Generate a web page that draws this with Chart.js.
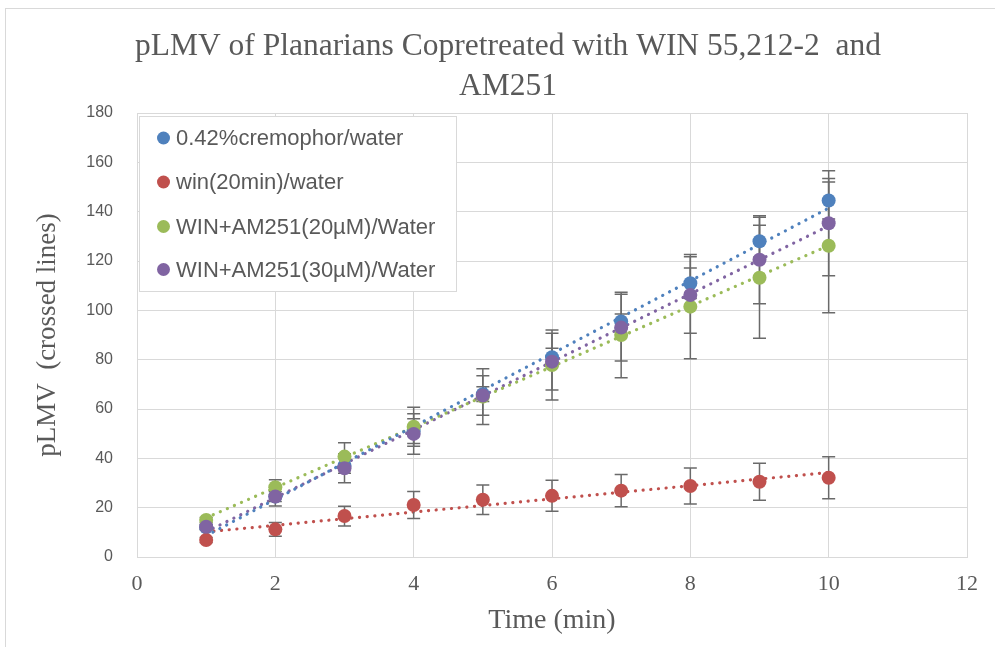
<!DOCTYPE html>
<html lang="en">
<head>
  <meta charset="UTF-8">
  <title>pLMV of Planarians</title>
  <script src="https://cdn.jsdelivr.net/npm/chart.js"></script>
  <style>
    body { margin: 0; background: #fff; }
    #frame { position: absolute; left: 5px; top: 8px; width: 1100px; height: 700px;
             border-left: 1px solid #d9d9d9; border-top: 1px solid #d9d9d9; }
    #wrap { position: absolute; left: 0; top: 0; width: 995px; height: 647px; }
  </style>
</head>
<body>
  <div id="frame"></div>
  <div id="wrap"><canvas id="plmvChart" width="995" height="647"></canvas></div>

  <script>
// time points (min)
const times = [1, 2, 3, 4, 5, 6, 7, 8, 9, 10];

// chart title lines
const titleLines = ['pLMV of Planarians Copretreated with WIN 55,212-2  and', 'AM251'];

// series labels
const labels = [
  '0.42%cremophor/water',
  'win(20min)/water',
  'WIN+AM251(20\u00b5M)/Water',
  'WIN+AM251(30\u00b5M)/Water'
];

// mean crossed lines
const cremophor = [12, 24.5, 37, 51, 66, 81, 95.5, 111, 128, 144.5];
const win20 = [6.9, 11.2, 16.6, 21.1, 23.2, 24.8, 26.9, 28.8, 30.5, 32.1];
const am20 = [15, 28.3, 40.7, 52.8, 65, 77.8, 90, 101.5, 113.2, 126.2];
const am30 = [12.3, 24.5, 36, 49.9, 65.5, 79.2, 93, 106.2, 120.5, 135.3];

// error bar sizes (+/-)
const cremophorErr = [1, 2, 3, 5, 3, 3.6, 3, 6.2, 6.5, 7.5];
const win20Err = [1, 2.8, 4, 5.5, 6, 6.3, 6.5, 7.3, 7.5, 8.5];
const am20Err = [1, 3, 5.6, 7.9, 11.3, 14.2, 17.3, 21.1, 24.5, 27.2];
const am30Err = [1, 3.8, 5.9, 8.2, 8, 11.5, 13.5, 15.5, 17.8, 21.3];

const colors = ['#4f81bd', '#c0504d', '#9bbb59', '#8064a2'];
const seriesData = [cremophor, win20, am20, am30];
const seriesErr = [cremophorErr, win20Err, am20Err, am30Err];

// linear trendline from first to last time point
function trend(ys) {
  const n = times.length;
  let sx = 0, sy = 0, sxy = 0, sxx = 0;
  for (let i = 0; i < n; i++) {
    sx += times[i]; sy += ys[i]; sxy += times[i] * ys[i]; sxx += times[i] * times[i];
  }
  const b = (n * sxy - sx * sy) / (n * sxx - sx * sx);
  const a = (sy - b * sx) / n;
  const x0 = times[0], x1 = times[n - 1];
  return [{x: x0, y: a + b * x0}, {x: x1, y: a + b * x1}];
}

const pts = ys => ys.map((y, i) => ({x: times[i], y: y}));

const datasets = [];
seriesData.forEach((ys, i) => {
  datasets.push({
    label: labels[i],
    data: pts(ys),
    backgroundColor: colors[i],
    borderColor: colors[i],
    pointRadius: 7,
    pointBorderWidth: 0,
    showLine: false,
    order: 4 - i
  });
});
seriesData.forEach((ys, i) => {
  datasets.push({
    label: 'trend' + i,
    data: trend(ys),
    borderColor: colors[i],
    borderWidth: 3.2,
    borderDash: [0.1, 7.6],
    borderCapStyle: 'round',
    pointRadius: 0,
    showLine: true,
    order: 10
  });
});

const errorBars = {
  id: 'errorBars',
  beforeDatasetDraw(chart, args) {
    if (args.index !== 0) return;
    const ctx = chart.ctx;
    const xs = chart.scales.x, ys = chart.scales.y;
    ctx.save();
    ctx.strokeStyle = '#6a6a6a';
    ctx.lineWidth = 1.5;
    seriesData.forEach((vals, s) => {
      vals.forEach((v, i) => {
        const e = seriesErr[s][i];
        const px = xs.getPixelForValue(times[i]);
        const top = ys.getPixelForValue(v + e);
        const bot = ys.getPixelForValue(v - e);
        ctx.beginPath();
        ctx.moveTo(px, top); ctx.lineTo(px, bot);
        ctx.moveTo(px - 6.5, top); ctx.lineTo(px + 6.5, top);
        ctx.moveTo(px - 6.5, bot); ctx.lineTo(px + 6.5, bot);
        ctx.stroke();
      });
    });
    ctx.restore();
  }
};

const boxLegend = {
  id: 'boxLegend',
  afterDatasetsDraw(chart) {
    const ctx = chart.ctx;
    ctx.save();
    ctx.fillStyle = '#fff';
    ctx.fillRect(139, 116, 317, 175);
    ctx.strokeStyle = '#d9d9d9';
    ctx.lineWidth = 1;
    ctx.strokeRect(139.5, 116.5, 317, 175);
    ctx.font = '22px "Liberation Sans"';
    ctx.textBaseline = 'middle';
    ctx.textAlign = 'left';
    const rows = [138, 182, 226.5, 269.5];
    labels.forEach((lab, i) => {
      ctx.fillStyle = colors[i];
      ctx.beginPath();
      ctx.arc(163.5, rows[i], 6.5, 0, Math.PI * 2);
      ctx.fill();
      ctx.fillStyle = '#595959';
      ctx.fillText(lab, 176, rows[i] + 1);
    });
    ctx.restore();
  }
};

// title drawn centred over the whole picture
const topTitle = {
  id: 'topTitle',
  afterDraw(chart) {
    const ctx = chart.ctx;
    ctx.save();
    ctx.font = '31.5px "Liberation Serif"';
    ctx.fillStyle = '#595959';
    ctx.textAlign = 'center';
    ctx.textBaseline = 'middle';
    ctx.fillText(titleLines[0], 508, 47);
    ctx.fillText(titleLines[1], 508, 87);
    ctx.restore();
  }
};

new Chart(document.getElementById('plmvChart'), {
  type: 'scatter',
  data: { datasets: datasets },
  options: {
    responsive: false,
    animation: false,
    layout: { padding: { left: 0, right: 28, top: 113, bottom: 0 } },
    plugins: {
      legend: { display: false },
      tooltip: { enabled: false },
      title: { display: false }
    },
    scales: {
      x: {
        type: 'linear',
        min: 0, max: 12,
        ticks: { stepSize: 2, color: '#595959', padding: 14,
                 font: { family: '"Liberation Serif"', size: 22 } },
        grid: { color: '#d9d9d9', drawTicks: false },
        border: { color: '#d9d9d9' },
        title: { display: true, text: 'Time (min)', color: '#595959', padding: 10,
                 font: { family: '"Liberation Serif"', size: 28, lineHeight: 1.2 } },
        afterFit(s) { s.height = 90; }
      },
      y: {
        min: 0, max: 180,
        ticks: { stepSize: 20, color: '#595959', padding: 24,
                 font: { family: '"Liberation Sans"', size: 16 } },
        grid: { color: '#d9d9d9', drawTicks: false },
        border: { color: '#d9d9d9' },
        title: { display: true, text: 'pLMV  (crossed lines)', color: '#595959', padding: 32,
                 font: { family: '"Liberation Serif"', size: 27, lineHeight: 1.2 } },
        afterFit(s) { s.width = 137; }
      }
    }
  },
  plugins: [errorBars, boxLegend, topTitle]
});
  </script>
</body>
</html>
